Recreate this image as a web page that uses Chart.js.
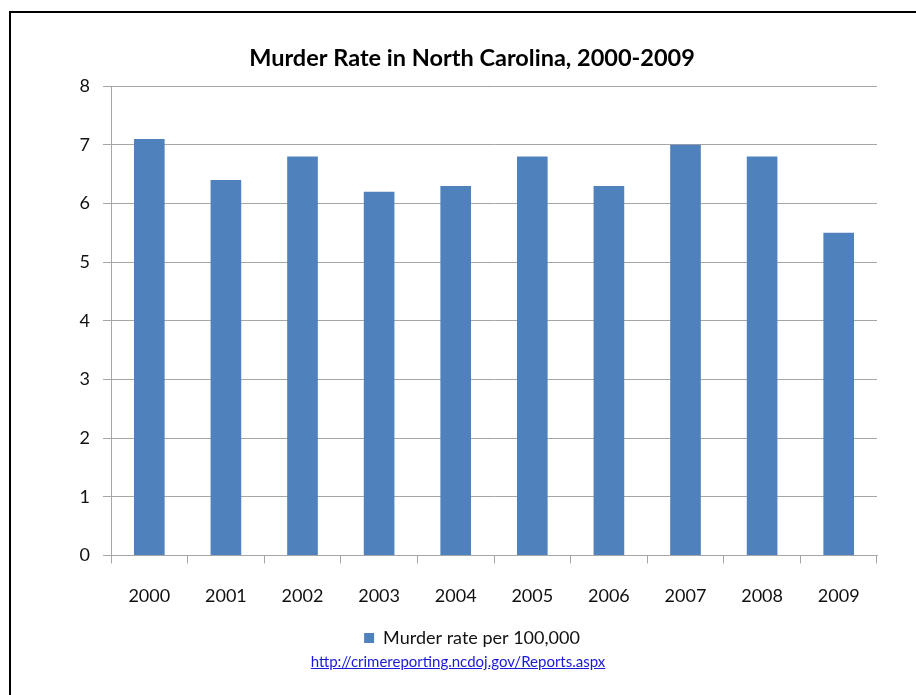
<!DOCTYPE html>
<html>
<head>
<meta charset="utf-8">
<script src="https://cdn.jsdelivr.net/npm/chart.js@4.4.0/dist/chart.umd.min.js"></script>
<style>
  html, body { margin: 0; padding: 0; background: #fff; }
  #wrap { position: relative; width: 916px; height: 695px; overflow: hidden; }
  #frame { position: absolute; left: 9px; top: 11px; width: 920px; height: 700px;
           border-left: 2px solid #000; border-top: 2px solid #000; box-sizing: border-box; pointer-events: none; }
  canvas { position: absolute; left: 0; top: 0; }
  #src { position: absolute; left: 0; width: 916px; top: 652px; text-align: center;
         font-family: Lato, sans-serif; font-size: 15px; }
  #src a { color: #1a1adb; text-decoration: underline; }
</style>
</head>
<body>
<div id="wrap">
  <canvas id="c" width="916" height="695"></canvas>
  <div id="frame"></div>
  <div id="src"><a href="http://crimereporting.ncdoj.gov/Reports.aspx">http://crimereporting.ncdoj.gov/Reports.aspx</a></div>
</div>
<script>
const titleText = 'Murder Rate in North Carolina, 2000-2009';
const seriesName = 'Murder rate per 100,000';
const years = ['2000','2001','2002','2003','2004','2005','2006','2007','2008','2009'];
const murderRate = [7.1, 6.4, 6.8, 6.2, 6.3, 6.8, 6.3, 7.0, 6.8, 5.5];
const yMin = 0;
const yMax = 8;
const yStep = 1;

const gridGray = '#a6a6a6';
const barBlue = '#4F81BD';
const fontFam = 'Lato, "Open Sans", sans-serif';

Chart.defaults.color = '#111';
Chart.defaults.font.family = fontFam;

new Chart(document.getElementById('c'), {
  type: 'bar',
  data: {
    labels: years,
    datasets: [{
      label: seriesName,
      data: murderRate,
      backgroundColor: barBlue,
      borderWidth: 0,
      barPercentage: 0.4,
      categoryPercentage: 1.0
    }]
  },
  options: {
    responsive: false,
    animation: false,
    devicePixelRatio: 1,
    layout: { padding: { left: 28, right: 0, top: 0, bottom: 38 } },
    plugins: {
      title: {
        display: true,
        text: titleText,
        font: { size: 23.5, weight: 'bold', family: fontFam },
        color: '#000',
        padding: { top: 44, bottom: 14 }
      },
      legend: {
        display: true,
        position: 'bottom',
        labels: {
          boxWidth: 10,
          boxHeight: 10,
          font: { size: 18, family: fontFam },
          color: '#111',
          padding: 0
        }
      },
      tooltip: { enabled: false }
    },
    scales: {
      x: {
        grid: { display: true, drawOnChartArea: false, drawTicks: true, tickLength: 8, color: gridGray, offset: true },
        border: { display: true, color: gridGray },
        ticks: { font: { size: 18, family: fontFam }, color: '#111', padding: 22, maxRotation: 0 }
      },
      y: {
        min: yMin,
        max: yMax,
        afterFit: (s) => { s.width = 83; },
        grid: { color: gridGray, drawTicks: true, tickLength: 8 },
        border: { display: true, color: gridGray },
        ticks: { stepSize: yStep, font: { size: 18, family: fontFam }, color: '#111', padding: 13 }
      },
      yRight: {
        position: 'right',
        display: true,
        afterFit: (s) => { s.width = 39; },
        grid: { display: false, drawTicks: false },
        border: { display: false },
        ticks: { display: false }
      }
    }
  }
});
</script>
</body>
</html>
